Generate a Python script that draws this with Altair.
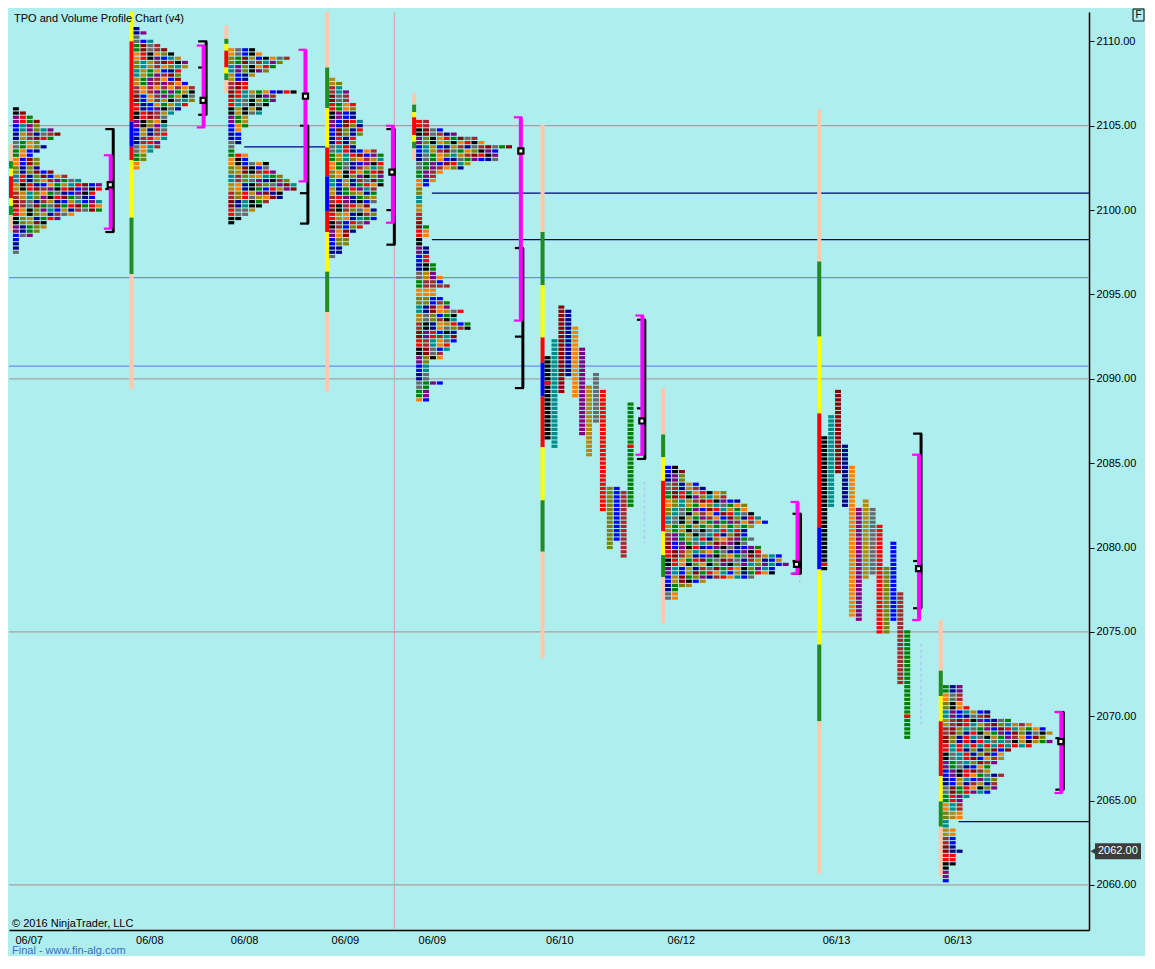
import json
import altair as alt
import pandas as pd

# ---------------- data ----------------
palette = ["#000000", "#008B8B", "#00008B", "#8B0000", "#FF8000", "#800080",
           "#B8860B", "#696969", "#FF0000", "#808000", "#0000FF", "#A52A2A", "#008000"]
seg_palette = {"P": "#FFC8AA", "G": "#228B22", "Y": "#FFFF00", "R": "#FF0000", "B": "#0000FF"}

x_domain = [0.0, 156.14]          # time slots (one slot = one TPO column)
y_domain = [2057.33, 2111.74]     # price
tick = 0.25

title_text = "TPO and Volume Profile Chart (v4)"
copyright_text = "\u00a9 2016 NinjaTrader, LLC"
footer_text = "Final - www.fin-alg.com"
current_price = 2062.00

date_pos = [0.86, 18.29, 32.0, 46.57, 59.14, 77.57, 95.14, 117.57, 135.14]
date_text = ["06/07", "06/08", "06/08", "06/09", "06/09", "06/10", "06/12", "06/13", "06/13"]
price_ticks = [2060, 2065, 2070, 2075, 2080, 2085, 2090, 2095, 2100, 2105, 2110]

# condensed TPO profiles: first column slot, top price, TPO count per row (0.25 steps)
p1_start, p1_top = 0.57, 2106.0
p1_widths = [1, 2, 3, 4, 4, 6, 7, 6, 4, 5, 4, 3, 4, 4, 4, 6, 8, 10, 13, 13, 12, 12, 13, 13, 13,
             9, 7, 5, 5, 4, 3, 1, 1, 1, 1]
p2_start, p2_top = 18.0, 2110.75
p2_widths = [1, 2, 1, 3, 4, 5, 6, 7, 8, 8, 7, 7, 7, 8, 9, 9, 9, 9, 8, 7, 6, 5, 5, 5, 5, 5, 5,
             4, 4, 3, 2, 2, 1, 1]
p3_start, p3_top = 31.71, 2109.5
p3_widths = [4, 5, 9, 8, 7, 6, 4, 3, 3, 3, 10, 7, 7, 6, 5, 5, 3, 3, 3, 2, 2, 2, 2, 1, 1, 3, 3,
             6, 6, 7, 8, 9, 10, 10, 8, 8, 6, 5, 4, 3, 2, 1]
p4_start, p4_top = 46.29, 2107.75
p4_widths = [1, 2, 2, 3, 3, 3, 4, 4, 4, 4, 5, 5, 5, 5, 4, 4, 4, 7, 8, 8, 8, 8, 8, 8, 8, 8, 7,
             7, 7, 7, 6, 7, 7, 7, 6, 5, 4, 3, 3, 3, 2, 2, 1]
p5_start, p5_top = 58.86, 2105.25
p5_widths = [2, 2, 4, 6, 9, 10, 14, 12, 12, 12, 8, 7, 4, 3, 3, 2, 1, 1, 1, 1, 1, 1, 1, 1, 1,
             2, 2, 2, 1, 1, 2, 2, 2, 2, 3, 3, 3, 4, 4, 5, 3, 3, 4, 5, 5, 7, 6, 6, 8, 8,
             6, 6, 6, 5, 5, 4, 4, 2, 2, 2, 2, 2, 4, 2, 2, 2, 2]
p7_start, p7_top = 94.86, 2084.75
p7_widths = [2, 3, 3, 3, 5, 6, 9, 9, 11, 12, 12, 13, 14, 15, 13, 12, 12, 13, 12, 14, 14, 17,
             17, 18, 16, 16, 13, 6, 4, 2, 2, 2]
p9_start, p9_top = 135.0, 2071.75
p9_widths = [3, 3, 3, 3, 3, 4, 7, 7, 10, 13, 15, 16, 15, 16, 13, 10, 9, 9, 8, 7, 7, 9, 8, 8,
             8, 7, 4, 3, 3, 3, 3, 3, 1, 1, 2, 2, 2, 2, 2, 3, 2, 2, 2, 1, 1, 1, 1]

# split TPO profiles: one column per period (top / bottom price, palette index)
p6_start = 77.43
p6_col_top = [2091.25, 2092.25, 2094.25, 2094.0, 2093.0, 2091.75, 2089.5, 2090.25, 2089.25,
              2083.5, 2083.5, 2083.25, 2088.5]
p6_col_bot = [2086.5, 2086.0, 2089.25, 2090.25, 2089.0, 2086.75, 2085.5, 2087.5, 2082.25,
              2080.0, 2080.5, 2079.5, 2082.5]
p8_start = 117.43
p8_col_top = [2086.5, 2087.75, 2089.25, 2086.0, 2084.75, 2082.25, 2082.75, 2082.25, 2081.25,
              2078.75, 2080.25, 2077.25, 2075.0]
p8_col_bot = [2078.75, 2082.5, 2084.5, 2082.5, 2076.0, 2075.75, 2078.25, 2078.5, 2075.0,
              2075.0, 2075.75, 2072.0, 2068.75]
split_col_color = [0, 1, 3, 2, 4, 5, 6, 7, 8, 9, 10, 11, 12]

red_cell_slot = [77.43, 89.43, 117.43, 129.43]
red_cell_price = [2089.75, 2086.0, 2079.0, 2070.0]

# volume bars left of each profile: segment edges (price) and segment colours
p1_bar_edges = [2103.9, 2102.9, 2102.45, 2102.0, 2100.7, 2100.25, 2099.7, 2098.7]
p1_bar_codes = ["P", "G", "Y", "R", "Y", "G", "P"]
p2_bar_edges = [2112.0, 2110.0, 2105.25, 2103.75, 2102.95, 2099.55, 2096.2, 2089.4]
p2_bar_codes = ["Y", "R", "B", "R", "Y", "G", "P"]
p3_bar_edges = [2110.95, 2110.15, 2109.85, 2109.45, 2108.45, 2108.1, 2107.7, 2106.95]
p3_bar_codes = ["P", "G", "Y", "R", "Y", "G", "P"]
p4_bar_edges = [2112.0, 2108.45, 2106.05, 2103.7, 2102.0, 2099.95, 2098.7, 2096.35, 2093.95, 2089.25]
p4_bar_codes = ["P", "G", "Y", "R", "B", "R", "Y", "G", "P"]
p5_bar_edges = [2106.9, 2106.25, 2105.8, 2105.5, 2104.45, 2104.05, 2103.65, 2102.95]
p5_bar_codes = ["P", "G", "Y", "R", "Y", "G", "P"]
p6_bar_edges = [2105.05, 2098.7, 2095.55, 2092.45, 2090.95, 2088.95, 2085.95, 2082.8, 2079.75, 2073.45]
p6_bar_codes = ["P", "G", "Y", "R", "B", "R", "Y", "G", "P"]
p7_bar_edges = [2089.45, 2086.7, 2085.35, 2083.95, 2080.95, 2079.55, 2078.25, 2075.5]
p7_bar_codes = ["P", "G", "Y", "R", "Y", "G", "P"]
p8_bar_edges = [2105.95, 2096.95, 2092.5, 2087.95, 2081.2, 2078.7, 2074.25, 2069.7, 2060.7]
p8_bar_codes = ["P", "G", "Y", "R", "B", "Y", "G", "P"]
p9_bar_edges = [2075.7, 2072.7, 2071.2, 2069.7, 2066.45, 2064.95, 2063.45, 2060.5]
p9_bar_codes = ["P", "G", "Y", "R", "Y", "G", "P"]

# value area (magenta), initial balance (black) and POC per profile
va_slot = [14.71, 28.14, 42.86, 55.5, 74.0, 91.57, 114.0, 131.57, 152.14]
va_top = [2103.25, 2109.75, 2109.5, 2105.0, 2105.5, 2093.75, 2082.7, 2085.5, 2070.25]
va_bot = [2098.9, 2104.9, 2101.7, 2099.25, 2093.45, 2085.5, 2078.45, 2075.7, 2065.45]
ib_slot = [15.07, 28.5, 43.21, 55.71, 74.29, 91.93, 114.43, 131.86, 152.43]
ib_top = [2104.8, 2110.0, 2105.0, 2104.8, 2097.75, 2093.5, 2082.0, 2086.75, 2070.25]
ib_bot = [2098.7, 2105.65, 2099.2, 2097.95, 2089.45, 2085.25, 2078.45, 2076.4, 2065.65]
ib_mid = [2101.25, 2108.45, 2101.0, 2100.0, 2092.5, 2088.25, 2079.2, 2079.2, 2068.7]
poc_slot = [14.64, 28.07, 42.86, 55.36, 74.0, 91.5, 113.86, 131.5, 152.07]
poc_price = [2101.5, 2106.5, 2106.75, 2102.25, 2103.5, 2087.5, 2079.0, 2078.75, 2068.5]

# horizontal reference lines
hline_price = [2105.0, 2096.0, 2090.75, 2090.0, 2075.0, 2060.0, 2103.75, 2101.0, 2098.25, 2063.75]
hline_from = [0.0, 0.0, 0.0, 0.0, 0.0, 0.0, 34.0, 61.14, 61.14, 137.29]
hline_to = [156.14, 156.14, 156.14, 156.14, 156.14, 156.14, 46.14, 156.14, 156.14, 156.14]
hline_kind = ["gray", "blue", "blue", "gray", "gray", "gray", "navy", "navy", "navy", "navy"]
session_slot = [55.71]

dash_slot = [91.86, 114.3, 131.86]
dash_top = [2083.9, 2082.7, 2074.3]
dash_bot = [2080.25, 2077.8, 2069.5]

# ---------------- build tables ----------------
W, H = 1080, 918
line_colors = {"gray": "#A8A0A0", "blue": "#6A8FE8", "navy": "#000080"}

cells = []
condensed = [(p1_start, p1_top, p1_widths), (p2_start, p2_top, p2_widths),
             (p3_start, p3_top, p3_widths), (p4_start, p4_top, p4_widths),
             (p5_start, p5_top, p5_widths), (p7_start, p7_top, p7_widths),
             (p9_start, p9_top, p9_widths)]
for pi, (start, top, widths) in enumerate(condensed):
    for r, w in enumerate(widths):
        price = top - tick * r
        for k in range(w):
            ci = (3 * k + 5 * (r // 2) + 2 * pi + (k * r) // 4) % 13
            cells.append(dict(x0=start + k, x1=start + k + 0.86,
                              yt=price + 0.095, yb=price - 0.095, c=palette[ci]))
for start, tops, bots in [(p6_start, p6_col_top, p6_col_bot), (p8_start, p8_col_top, p8_col_bot)]:
    for k in range(len(tops)):
        n = int(round((tops[k] - bots[k]) / tick))
        for j in range(n + 1):
            price = tops[k] - j * tick
            cells.append(dict(x0=start + k, x1=start + k + 0.86,
                              yt=price + 0.095, yb=price - 0.095,
                              c=palette[split_col_color[k]]))
for s, p in zip(red_cell_slot, red_cell_price):
    cells.append(dict(x0=s, x1=s + 0.86, yt=p + 0.095, yb=p - 0.095, c="#FF0000"))
cells_df = pd.DataFrame(cells)

bars = []
bar_specs = [(p1_start, p1_bar_edges, p1_bar_codes), (p2_start, p2_bar_edges, p2_bar_codes),
             (p3_start, p3_bar_edges, p3_bar_codes), (p4_start, p4_bar_edges, p4_bar_codes),
             (p5_start, p5_bar_edges, p5_bar_codes), (p6_start, p6_bar_edges, p6_bar_codes),
             (p7_start, p7_bar_edges, p7_bar_codes), (p8_start, p8_bar_edges, p8_bar_codes),
             (p9_start, p9_bar_edges, p9_bar_codes)]
for start, edges, codes in bar_specs:
    for i, code in enumerate(codes):
        bars.append(dict(x0=start - 0.58, x1=start, yt=edges[i], yb=edges[i + 1],
                         c=seg_palette[code]))
bars_df = pd.DataFrame(bars)

hl_df = pd.DataFrame(dict(p=hline_price, x0=hline_from, x1=hline_to,
                          c=[line_colors[k] for k in hline_kind]))
vl_df = pd.DataFrame(dict(x=session_slot, yt=[y_domain[1]], yb=[y_domain[0]]))
dash_df = pd.DataFrame(dict(x=dash_slot, yt=dash_top, yb=dash_bot))

va_df = pd.DataFrame(dict(x=va_slot, yt=va_top, yb=va_bot))
va_ticks = []
for x, t, b in zip(va_slot, va_top, va_bot):
    va_ticks += [dict(x0=x - 1.0, x1=x + 0.2, p=t), dict(x0=x - 1.0, x1=x + 0.2, p=b)]
va_ticks_df = pd.DataFrame(va_ticks)
ib_df = pd.DataFrame(dict(x=ib_slot, yt=ib_top, yb=ib_bot))
ib_ticks = []
for x, t, b, m in zip(ib_slot, ib_top, ib_bot, ib_mid):
    ib_ticks += [dict(x0=x - 1.15, x1=x + 0.15, p=t), dict(x0=x - 1.15, x1=x + 0.15, p=b),
                 dict(x0=x - 1.15, x1=x, p=m)]
ib_ticks_df = pd.DataFrame(ib_ticks)
poc_df = pd.DataFrame(dict(x=poc_slot, p=poc_price))

# ---------------- chart ----------------
FONT = "Liberation Sans"
xs = alt.Scale(domain=x_domain, nice=False, zero=False)
ys = alt.Scale(domain=y_domain, nice=False, zero=False)
label_expr = f"{json.dumps(date_text)}[indexof({json.dumps(date_pos)}, datum.value)]"
xaxis = alt.Axis(values=date_pos, labelExpr=label_expr, ticks=False, grid=False,
                 domainColor="black", domainWidth=1.5, labelAlign="left", labelFontSize=11,
                 labelFont=FONT, labelColor="black", labelPadding=4, labelOverlap=False,
                 labelFlush=False, title=None)
yaxis = alt.Axis(orient="right", values=price_ticks, format=".2f", grid=False,
                 domainColor="black", domainWidth=1.5, tickColor="black", tickSize=5,
                 labelFontSize=11, labelFont=FONT, labelColor="black", labelPadding=2,
                 title=None)


def X(f):
    return alt.X(f, type="quantitative", scale=xs, axis=xaxis)


def Y(f):
    return alt.Y(f, type="quantitative", scale=ys, axis=yaxis)


hlines = alt.Chart(hl_df).mark_rule(strokeWidth=1.2).encode(
    x=X("x0"), x2="x1", y=Y("p"), color=alt.Color("c:N", scale=None))
vlines = alt.Chart(vl_df).mark_rule(strokeWidth=1, color="#C8A8A0").encode(
    x=X("x"), y=Y("yt"), y2="yb")
bar_layer = alt.Chart(bars_df).mark_rect(clip=True).encode(
    x=X("x0"), x2="x1", y=Y("yt"), y2="yb", color=alt.Color("c:N", scale=None))
cell_layer = alt.Chart(cells_df).mark_rect().encode(
    x=X("x0"), x2="x1", y=Y("yt"), y2="yb", color=alt.Color("c:N", scale=None))
dash_layer = alt.Chart(dash_df).mark_rule(strokeWidth=1.5, strokeDash=[3, 3],
                                          color="#B4C4F4").encode(
    x=X("x"), y=Y("yt"), y2="yb")
ib_layer = alt.Chart(ib_df).mark_rule(strokeWidth=3, color="black").encode(
    x=X("x"), y=Y("yt"), y2="yb")
ib_tick_layer = alt.Chart(ib_ticks_df).mark_rule(strokeWidth=2.2, color="black").encode(
    x=X("x0"), x2="x1", y=Y("p"))
va_layer = alt.Chart(va_df).mark_rule(strokeWidth=4, color="#FF00FF").encode(
    x=X("x"), y=Y("yt"), y2="yb")
va_tick_layer = alt.Chart(va_ticks_df).mark_rule(strokeWidth=2.2, color="#FF00FF").encode(
    x=X("x0"), x2="x1", y=Y("p"))
poc_layer = alt.Chart(poc_df).mark_square(size=26, fill="white", fillOpacity=1,
                                          stroke="black", strokeWidth=2.2).encode(
    x=X("x"), y=Y("p"))

txt_df = pd.DataFrame(dict(t=[title_text]))
title_layer = alt.Chart(txt_df).mark_text(align="left", baseline="middle", fontSize=11,
                                          font=FONT, color="black").encode(
    x=alt.value(5), y=alt.value(7), text="t:N")
copy_layer = alt.Chart(pd.DataFrame(dict(t=[copyright_text]))).mark_text(
    align="left", baseline="middle", fontSize=11, font=FONT, color="black").encode(
    x=alt.value(3), y=alt.value(H - 6), text="t:N")
foot_layer = alt.Chart(pd.DataFrame(dict(t=[footer_text]))).mark_text(
    align="left", baseline="middle", fontSize=11, font=FONT, color="#3A6FC8").encode(
    x=alt.value(3), y=alt.value(H + 21), text="t:N")

cp_df = pd.DataFrame(dict(p=[current_price], pt=[current_price + 0.47],
                          pb=[current_price - 0.47]))
cp_box = alt.Chart(cp_df).mark_rect(color="#3C3C3C").encode(
    x=alt.value(W + 6), x2=alt.value(W + 52), y=Y("pt"), y2="pb")
cp_arrow = alt.Chart(cp_df).mark_point(shape="triangle-left", filled=True, size=70,
                                       color="#3C3C3C", opacity=1).encode(
    x=alt.value(W + 5), y=Y("p"))
cp_text = alt.Chart(cp_df).mark_text(align="left", baseline="middle", fontSize=11,
                                     font=FONT, color="white").encode(
    x=alt.value(W + 9), y=Y("p"), text=alt.Text("p:Q", format=".2f"))

f_df = pd.DataFrame(dict(t=["F"]))
f_box = alt.Chart(f_df).mark_rect(fillOpacity=0, stroke="black", strokeWidth=1).encode(
    x=alt.value(W + 44), x2=alt.value(W + 55), y=alt.value(-3), y2=alt.value(9))
f_text = alt.Chart(f_df).mark_text(align="center", baseline="middle", fontSize=10,
                                   font=FONT, color="black").encode(
    x=alt.value(W + 49.5), y=alt.value(3), text="t:N")

chart = alt.layer(
    hlines, vlines, bar_layer, cell_layer, dash_layer, ib_layer, ib_tick_layer,
    va_layer, va_tick_layer, poc_layer, title_layer, copy_layer, foot_layer,
    cp_box, cp_arrow, cp_text, f_box, f_text
).properties(
    width=W, height=H, background="#AFEEEE",
    padding={"left": 0, "right": 0, "top": 0, "bottom": 0}
).configure_view(strokeWidth=0)

chart.save("out.html", embed_options={"renderer": "svg", "actions": False})
